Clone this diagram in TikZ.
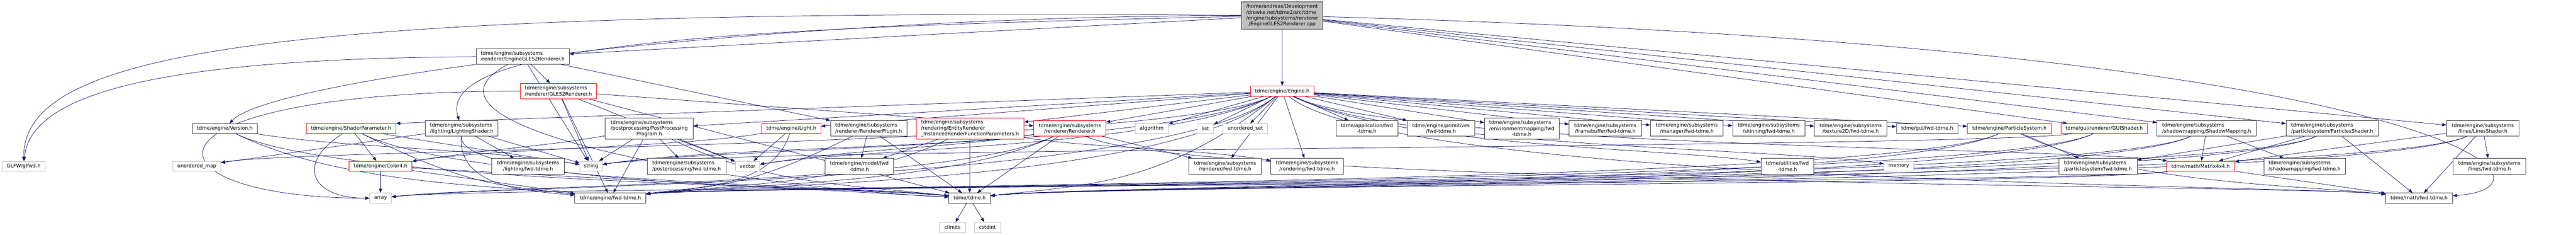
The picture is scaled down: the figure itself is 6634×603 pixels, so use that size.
\documentclass[tikz,border=0pt]{standalone}
\usepackage{fontspec}
\setmainfont{DejaVu Sans}
\usepackage{calc}
\usetikzlibrary{arrows.meta}
\definecolor{edgeblue}{HTML}{191970}
\definecolor{sysgray}{HTML}{BFBFBF}
\definecolor{docgray}{HTML}{404040}
\definecolor{cutred}{HTML}{FF0000}
\newcommand{\padleft}[2]{\makebox[\widthof{#1}][l]{#2}}
\pgfdeclarelayer{edges}
\pgfsetlayers{edges,main}
\tikzset{
  file/.style={draw,fill=white,line width=0.75pt,align=center,inner xsep=2pt,inner ysep=1pt,
    font=\fontsize{9.5}{11.25}\selectfont},
  doc/.style={file,draw=docgray},
  cut/.style={file,draw=cutred},
  sys/.style={file,draw=sysgray},
  top/.style={file,draw=docgray,fill=sysgray},
  wh/.style 2 args={minimum width=#1*0.75pt,minimum height=#2*0.75pt},
  dep/.style={-{Triangle[length=8pt,width=6pt]},color=edgeblue,line width=0.75pt},
  chanL/.style n args={3}{to path={.. controls +(-#1,#2) and +(#1,#3) .. (\tikztotarget)}},
  chanR/.style n args={3}{to path={.. controls +(#1,#2) and +(-#1,#3) .. (\tikztotarget)}},
}

\begin{document}
\begin{tikzpicture}[x=0.75pt,y=-0.75pt]
        \useasboundingbox (0,0) rectangle (6634,603);
        % source file and its direct headers
        \node[top,wh={210}{70}] (cpp) at (3302,40)
        {\padleft{/engine/subsystems/renderer}{/home/andreas/Development}\\
         \padleft{/engine/subsystems/renderer}{/drewke.net/tdme2/src/tdme}\\
         /engine/subsystems/renderer\\/EngineGLES2Renderer.cpp};
        \node[doc,wh={240}{40}] (ren) at (1346,145)
        {\padleft{/renderer/EngineGLES2Renderer.h}{tdme/engine/subsystems}\\/renderer/EngineGLES2Renderer.h};
        \node[cut,wh={196}{40}] (gles) at (1438,234)
        {\padleft{/renderer/GLES2Renderer.h}{tdme/engine/subsystems}\\/renderer/GLES2Renderer.h};
        \node[cut,wh={164}{26}] (engine) at (3302,234) {tdme/engine/Engine.h};
        % third row
        \node[doc,wh={168}{25}] (version) at (579,330) {tdme/engine/Version.h};
        \node[cut,wh={231}{25}] (shaderparam) at (904,330) {tdme/engine/ShaderParameter.h};
        \node[doc,wh={187}{40}] (lightshader) at (1189,330)
        {\padleft{/lighting/LightingShader.h}{tdme/engine/subsystems}\\/lighting/LightingShader.h};
        \node[doc,wh={227}{55}] (postprog) at (1672,330)
        {\padleft{/postprocessing/PostProcessing}{tdme/engine/subsystems}\\/postprocessing/PostProcessing\\Program.h};
        \node[cut,wh={152}{25}] (light) at (2038,330) {tdme/engine/Light.h};
        \node[doc,wh={196}{40}] (rplugin) at (2237,330)
        {\padleft{/renderer/RendererPlugin.h}{tdme/engine/subsystems}\\/renderer/RendererPlugin.h};
        \node[cut,wh={278}{55}] (entityparams) at (2498,330)
        {\padleft{\_InstancedRenderFunctionParameters.h}{tdme/engine/subsystems}\\
         \padleft{\_InstancedRenderFunctionParameters.h}{/rendering/EntityRenderer}\\
         \_InstancedRenderFunctionParameters.h};
        \node[cut,wh={186}{40}] (renderer) at (2755,330) {tdme/engine/subsystems\\/renderer/Renderer.h};
        \node[sys,wh={86}{25}] (algorithm) at (2966,330) {algorithm};
        \node[sys,wh={43}{25}] (list) at (3104,330) {list};
        \node[sys,wh={115}{25}] (uset) at (3207,330) {unordered\_set};
        \node[doc,wh={159}{40}] (appfwd) at (3520,330) {tdme/application/fwd\\-tdme.h};
        \node[doc,wh={174}{40}] (primfwd) at (3711,330) {tdme/engine/primitives\\/fwd-tdme.h};
        \node[doc,wh={193}{55}] (envfwd) at (3919,330)
        {\padleft{/environmentmapping/fwd}{tdme/engine/subsystems}\\/environmentmapping/fwd\\-tdme.h};
        \node[doc,wh={187}{40}] (fbfwd) at (4134,330) {tdme/engine/subsystems\\/framebuffer/fwd-tdme.h};
        \node[doc,wh={187}{40}] (mgrfwd) at (4344,330) {tdme/engine/subsystems\\/manager/fwd-tdme.h};
        \node[doc,wh={186}{40}] (skinfwd) at (4555,330) {tdme/engine/subsystems\\/skinning/fwd-tdme.h};
        \node[doc,wh={187}{40}] (texfwd) at (4766,330) {tdme/engine/subsystems\\/texture2D/fwd-tdme.h};
        \node[doc,wh={158}{25}] (guifwd) at (4963,330) {tdme/gui/fwd-tdme.h};
        \node[cut,wh={217}{25}] (psystem) at (5175,330) {tdme/engine/ParticleSystem.h};
        \node[cut,wh={224}{25}] (guishader) at (5419,330) {tdme/gui/renderer/GUIShader.h};
        \node[doc,wh={256}{40}] (shadowmap) at (5683,330)
        {\padleft{/shadowmapping/ShadowMapping.h}{tdme/engine/subsystems}\\/shadowmapping/ShadowMapping.h};
        \node[doc,wh={238}{40}] (pshader) at (6006,330)
        {\padleft{/particlesystem/ParticlesShader.h}{tdme/engine/subsystems}\\/particlesystem/ParticlesShader.h};
        \node[doc,wh={187}{40}] (lshader) at (6394,330) {tdme/engine/subsystems\\/lines/LinesShader.h};
        % fourth row
        \node[sys,wh={110}{26}] (glfw) at (61,427) {GLFW/glfw3.h};
        \node[sys,wh={123}{26}] (umap) at (507,427) {unordered\_map};
        \node[cut,wh={162}{26}] (color) at (980,427) {tdme/engine/Color4.h};
        \node[doc,wh={187}{40}] (lightfwd) at (1360,427) {tdme/engine/subsystems\\/lighting/fwd-tdme.h};
        \node[sys,wh={58}{26}] (string) at (1522,427) {string};
        \node[doc,wh={203}{40}] (ppfwd) at (1768,427)
        {\padleft{/postprocessing/fwd-tdme.h}{tdme/engine/subsystems}\\/postprocessing/fwd-tdme.h};
        \node[sys,wh={63}{26}] (vector) at (1925,427) {vector};
        \node[doc,wh={176}{40}] (modelfwd) at (2213,427) {tdme/engine/model/fwd\\-tdme.h};
        \node[doc,wh={186}{40}] (rendererfwd) at (3155,427) {tdme/engine/subsystems\\/renderer/fwd-tdme.h};
        \node[doc,wh={186}{40}] (renderingfwd) at (3366,427) {tdme/engine/subsystems\\/rendering/fwd-tdme.h};
        \node[doc,wh={136}{40}] (utilfwd) at (4603,427) {tdme/utilities/fwd\\-tdme.h};
        \node[sys,wh={77}{26}] (memory) at (4890,427) {memory};
        \node[doc,wh={201}{40}] (psfwd) at (5403,427)
        {\padleft{/particlesystem/fwd-tdme.h}{tdme/engine/subsystems}\\/particlesystem/fwd-tdme.h};
        \node[cut,wh={176}{26}] (matrix) at (5667,427) {tdme/math/Matrix4x4.h};
        \node[doc,wh={210}{40}] (smfwd) at (5935,427)
        {\padleft{/shadowmapping/fwd-tdme.h}{tdme/engine/subsystems}\\/shadowmapping/fwd-tdme.h};
        \node[doc,wh={187}{40}] (linesfwd) at (6411,427) {tdme/engine/subsystems\\/lines/fwd-tdme.h};
        % fifth and sixth rows
        \node[sys,wh={56}{26}] (array) at (980,509) {array};
        \node[doc,wh={183}{26}] (enginefwd) at (1572,509) {tdme/engine/fwd-tdme.h};
        \node[doc,wh={107}{26}] (tdme) at (2497,509) {tdme/tdme.h};
        \node[doc,wh={172}{26}] (mathfwd) at (6230,509) {tdme/math/fwd-tdme.h};
        \node[sys,wh={67}{26}] (climits) at (2453,584) {climits};
        \node[sys,wh={67}{26}] (cstdint) at (2543,584) {cstdint};

        \begin{pgfonlayer}{edges}
        % EngineGLES2Renderer.cpp
        \foreach \dst in {ren,engine,guishader,shadowmap,pshader,lshader}
          \draw[dep] (cpp) -- (\dst);
        \draw[dep] (cpp) .. controls (700,20) and (60,130) .. (glfw);
        \draw[dep] (cpp) .. controls (2000,40) and (700,200) .. (version);
        \draw[dep] (cpp) .. controls (1900,70) and (1120,110) .. (lightshader);
        \draw[dep] (cpp) .. controls (6300,120) and (6640,480) .. (mathfwd);
        % EngineGLES2Renderer.h, GLES2Renderer.h
        \foreach \dst in {gles,string,rplugin}
          \draw[dep] (ren) -- (\dst);
        \draw[dep] (ren) .. controls (500,150) and (80,220) .. (glfw);
        \draw[dep] (ren) .. controls (1000,330) and (1900,480) .. (tdme);
        \foreach \dst in {renderer,string,enginefwd,vector,tdme}
          \draw[dep] (gles) -- (\dst);
        \draw[dep] (gles) .. controls (300,235) and (350,509) .. (array);
        % Engine.h
        \foreach \dst in {list,algorithm,uset,renderer,entityparams,light,postprog,rendererfwd,
          renderingfwd,appfwd,primfwd,envfwd,fbfwd,mgrfwd,skinfwd,texfwd,guifwd,psystem}
          \draw[dep] (engine) -- (\dst);
        \draw[dep] (engine) -- (shaderparam.north east);
        \foreach \dst in {string,vector,umap}
          \draw[dep,chanL={300}{146}{-47}] (engine) to (\dst);
        \foreach \dst in {array,enginefwd,tdme}
          \draw[dep,chanL={300}{241}{-34}] (engine) to (\dst);
        \foreach \dst in {utilfwd,memory,matrix}
          \draw[dep,chanR={300}{146}{-47}] (engine) to (\dst);
        \draw[dep,chanR={300}{241}{-34}] (engine) to (mathfwd);
        % left headers
        \draw[dep,chanR={300}{50}{-47}] (version) to (string);
        \foreach \dst in {enginefwd,tdme}
          \draw[dep,chanR={300}{145}{-34}] (version) to (\dst);
        \draw[dep] (shaderparam) -- (color);
        \draw[dep] (shaderparam) .. controls (760,420) and (800,509) .. (array);
        \draw[dep,chanR={300}{50}{-47}] (shaderparam) to (string);
        \foreach \dst in {enginefwd,tdme}
          \draw[dep,chanR={300}{145}{-34}] (shaderparam) to (\dst);
        \foreach \dst in {array,enginefwd,tdme}
          \draw[dep] (color) -- (\dst);
        \foreach \dst in {lightfwd,string,umap}
          \draw[dep] (lightshader) -- (\dst);
        \draw[dep] (lightshader) .. controls (1180,480) and (1350,490) .. (enginefwd);
        \draw[dep] (lightshader) .. controls (1180,480) and (2200,480) .. (tdme);
        \foreach \dst in {ppfwd,vector,string,enginefwd}
          \draw[dep] (postprog) -- (\dst);
        \draw[dep,chanR={300}{145}{-34}] (postprog) to (tdme);
        \draw[dep,chanL={300}{50}{-47}] (postprog) to (color);
        \draw[dep] (light) -- (vector);
        \draw[dep,chanL={300}{50}{-47}] (light) to (color);
        \draw[dep] (light) .. controls (1990,480) and (1800,480) .. (enginefwd);
        % middle headers
        \foreach \dst in {tdme,modelfwd}
          \draw[dep] (rplugin) -- (\dst);
        \draw[dep,chanL={300}{145}{-34}] (rplugin) to (enginefwd);
        \foreach \dst in {tdme,modelfwd}
          \draw[dep] (entityparams) -- (\dst);
        \draw[dep,chanL={300}{145}{-34}] (entityparams) to (enginefwd);
        \draw[dep,chanR={300}{50}{-47}] (entityparams) to (renderingfwd);
        \foreach \dst in {rendererfwd,tdme}
          \draw[dep] (renderer) -- (\dst);
        \foreach \dst in {enginefwd,array}
          \draw[dep,chanL={300}{145}{-34}] (renderer) to (\dst);
        \foreach \dst in {string,vector}
          \draw[dep,chanL={300}{50}{-47}] (renderer) to (\dst);
        \draw[dep,chanR={300}{145}{-34}] (renderer) to (mathfwd);
        % right headers
        \draw[dep] (psystem) -- (psfwd);
        \foreach \dst in {enginefwd,tdme}
          \draw[dep,chanL={300}{145}{-34}] (psystem) to (\dst);
        \draw[dep,chanR={300}{145}{-34}] (psystem) to (mathfwd);
        \foreach \dst in {enginefwd,tdme}
          \draw[dep,chanL={300}{145}{-34}] (guishader) to (\dst);
        \draw[dep,chanL={300}{50}{-47}] (guishader) to (string);
        \foreach \dst in {matrix,smfwd}
          \draw[dep] (shadowmap) -- (\dst);
        \foreach \dst in {enginefwd,tdme}
          \draw[dep,chanL={300}{145}{-34}] (shadowmap) to (\dst);
        \foreach \dst in {mathfwd,psfwd,matrix}
          \draw[dep] (pshader) -- (\dst);
        \foreach \dst in {enginefwd,tdme}
          \draw[dep,chanL={300}{145}{-34}] (pshader) to (\dst);
        \foreach \dst in {linesfwd,mathfwd,matrix}
          \draw[dep] (lshader) -- (\dst);
        \foreach \dst in {enginefwd,tdme}
          \draw[dep,chanL={300}{145}{-34}] (lshader) to (\dst);
        \draw[dep] (matrix) -- (mathfwd);
        \foreach \dst in {array,tdme}
          \draw[dep,chanL={300}{48}{-34}] (matrix) to (\dst);
        \foreach \dst in {climits,cstdint}
          \draw[dep] (tdme) -- (\dst);
        \end{pgfonlayer}
\end{tikzpicture}
\end{document}
